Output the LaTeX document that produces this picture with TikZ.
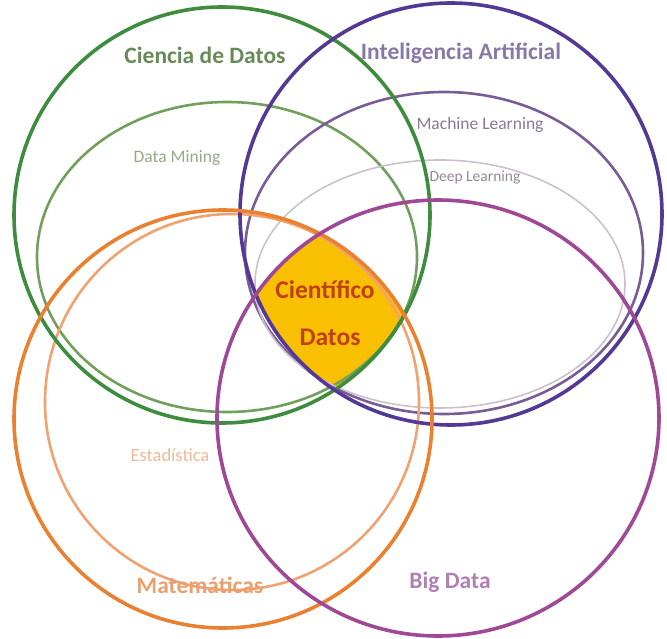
\documentclass[tikz,border=0pt]{standalone}
\usepackage{fontspec}
\setmainfont{Carlito}
\begin{document}
\begin{tikzpicture}[x=1pt,y=-1pt,
  outer/.style={line width=3.6pt},
  inner/.style={line width=2.6pt},
  thin/.style={line width=1.6pt},
  title/.style={font=\fontsize{23.5}{26}\selectfont\bfseries, inner sep=0pt},
  sub/.style={font=\fontsize{17.5}{20}\selectfont, inner sep=0pt},
  core/.style={font=\fontsize{25.5}{28}\selectfont\bfseries, text=coretext, inner sep=0pt}]
\definecolor{cdgreen}{RGB}{62,140,62}
\definecolor{dmgreen}{RGB}{112,160,92}
\definecolor{iapurple}{RGB}{84,56,150}
\definecolor{mlpurple}{RGB}{120,92,150}
\definecolor{dlgrey}{RGB}{205,192,205}
\definecolor{matorange}{RGB}{234,128,48}
\definecolor{estorange}{RGB}{240,162,112}
\definecolor{bdmagenta}{RGB}{158,72,150}
\definecolor{corefill}{RGB}{248,192,0}
\definecolor{coretext}{RGB}{192,64,16}
\useasboundingbox (0,0) rectangle (667,639);

% shared core: inside all four main circles
\begin{scope}
  \clip (222,215) circle[radius=208];
  \clip (451,214) circle[radius=211];
  \clip (223,419) circle[radius=209];
  \fill[corefill] (438,418) ellipse[x radius=221, y radius=218];
\end{scope}

% inner sets
\draw[dmgreen, inner] (227,257) ellipse[x radius=190, y radius=155];
\draw[mlpurple, inner] (444,253) ellipse[x radius=199, y radius=161];
\draw[dlgrey, thin] (440,284) ellipse[x radius=185, y radius=124];
\draw[estorange, inner] (232,402) ellipse[x radius=187, y radius=188];

% main sets
\draw[cdgreen, outer] (222,215) circle[radius=208];
\draw[iapurple, outer] (451,214) circle[radius=211];
\draw[matorange, outer] (223,419) circle[radius=209];
\draw[bdmagenta, outer] (438,418) ellipse[x radius=221, y radius=218];

% labels
\node[title, text={rgb,255:red,104;green,138;blue,88}] (cd) at (205,55) {Ciencia de Datos};
\node[title, text={rgb,255:red,136;green,120;blue,168}] (ia) at (461,53) {Inteligencia Artificial};
\node[sub, text={rgb,255:red,150;green,168;blue,132}] (dm) at (177,158) {Data Mining};
\node[sub, text={rgb,255:red,136;green,120;blue,152}] (ml) at (480,125) {Machine Learning};
\node[sub, font=\fontsize{15.5}{18}\selectfont, text={rgb,255:red,150;green,136;blue,150}] (dl) at (475,178) {Deep Learning};
\node[sub, font=\fontsize{18.5}{21}\selectfont, text={rgb,255:red,240;green,184;blue,152}] (est) at (170,455) {Estadística};
\node[title, text={rgb,255:red,232;green,160;blue,112}] (mat) at (200,585) {Matemáticas};
\node[title, text={rgb,255:red,176;green,128;blue,176}] (bd) at (450,582) {Big Data};
\node[core] (cf) at (325,290) {Científico};
\node[core] (dt) at (330,337) {Datos};
\end{tikzpicture}
\end{document}
